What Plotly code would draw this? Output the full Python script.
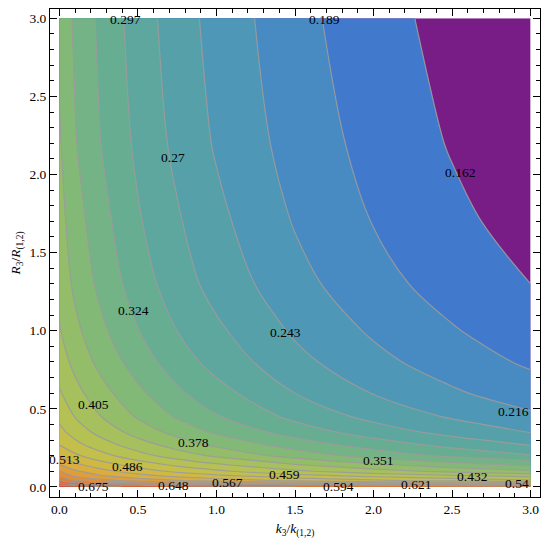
import plotly.graph_objects as go

# k3/k(1,2) grid (columns) and R3/R(1,2) grid (rows)
k_ratio = [0, 0.1, 0.25, 0.5, 0.75, 1.0, 1.5, 2.0, 2.5, 3.0]
r_ratio = [0, 0.01, 0.02, 0.04, 0.07, 0.1, 0.14, 0.2, 0.27, 0.35, 0.45,
           0.6, 0.8, 1.0, 1.3, 1.7, 2.2, 3.0]

# values, one row per r_ratio entry
z_vals = [
    [0.700, 0.692, 0.682, 0.670, 0.662, 0.656, 0.648, 0.642, 0.637, 0.632],
    [0.671, 0.662, 0.656, 0.649, 0.643, 0.638, 0.629, 0.622, 0.616, 0.610],
    [0.649, 0.633, 0.622, 0.609, 0.598, 0.590, 0.575, 0.563, 0.553, 0.543],
    [0.621, 0.595, 0.577, 0.557, 0.542, 0.529, 0.509, 0.492, 0.478, 0.465],
    [0.588, 0.563, 0.544, 0.523, 0.506, 0.493, 0.470, 0.452, 0.437, 0.424],
    [0.568, 0.544, 0.524, 0.499, 0.480, 0.464, 0.437, 0.416, 0.398, 0.382],
    [0.541, 0.520, 0.500, 0.475, 0.454, 0.437, 0.408, 0.384, 0.364, 0.347],
    [0.510, 0.491, 0.470, 0.442, 0.419, 0.400, 0.367, 0.340, 0.318, 0.299],
    [0.485, 0.467, 0.446, 0.417, 0.393, 0.372, 0.338, 0.311, 0.288, 0.268],
    [0.467, 0.448, 0.425, 0.394, 0.369, 0.347, 0.312, 0.284, 0.261, 0.242],
    [0.452, 0.431, 0.407, 0.375, 0.348, 0.326, 0.290, 0.262, 0.240, 0.221],
    [0.435, 0.414, 0.390, 0.357, 0.329, 0.307, 0.270, 0.242, 0.220, 0.201],
    [0.418, 0.397, 0.372, 0.338, 0.310, 0.287, 0.251, 0.224, 0.202, 0.185],
    [0.407, 0.385, 0.359, 0.325, 0.297, 0.275, 0.239, 0.212, 0.191, 0.174],
    [0.396, 0.372, 0.346, 0.310, 0.283, 0.260, 0.225, 0.198, 0.178, 0.162],
    [0.388, 0.363, 0.336, 0.300, 0.273, 0.250, 0.214, 0.188, 0.168, 0.152],
    [0.381, 0.353, 0.326, 0.291, 0.263, 0.240, 0.205, 0.180, 0.160, 0.144],
    [0.371, 0.346, 0.320, 0.284, 0.256, 0.233, 0.198, 0.172, 0.153, 0.137],
]

# contour levels
level_start = 0.162
level_end = 0.675
level_step = 0.027

# contour labels as printed on the map
label_text = ["0.297", "0.189", "0.27", "0.162", "0.324", "0.243", "0.216",
              "0.405", "0.378", "0.513", "0.486", "0.351", "0.459", "0.432",
              "0.675", "0.648", "0.567", "0.594", "0.621", "0.54"]
label_k = [0.42, 1.69, 0.72, 2.55, 0.47, 1.44, 3.0,
           0.215, 0.855, 0.03, 0.435, 2.03, 1.43, 2.63,
           0.215, 0.725, 1.07, 1.78, 2.27, 3.0]
label_r = [2.99, 2.99, 2.11, 2.01, 1.13, 0.99, 0.48,
           0.53, 0.287, 0.175, 0.132, 0.17, 0.079, 0.064,
           0.0, 0.01, 0.026, 0.0, 0.015, 0.02]

tick_vals = [0, 0.5, 1.0, 1.5, 2.0, 2.5, 3.0]
tick_text = ["0.0", "0.5", "1.0", "1.5", "2.0", "2.5", "3.0"]

# one colour per band, lowest band first
band_colors = [
    "#781C86", "#417ACC", "#488AC2", "#4F97B6", "#56A0AA", "#5EA79E",
    "#67AD92", "#73B385", "#83B977", "#94BD69", "#A5C05D", "#B5C153",
    "#C4BF4A", "#D0B942", "#DAAD3D", "#DF9E3A", "#E18E38", "#E07C36",
    "#DC6734", "#D65132", "#CD3A30",
]
n = len(band_colors) - 1
colorscale = [[i / n, c] for i, c in enumerate(band_colors)]

serif = "Liberation Serif"

fig = go.Figure()

fig.add_trace(go.Contour(
    x=k_ratio,
    y=r_ratio,
    z=z_vals,
    autocontour=False,
    contours=dict(start=level_start, end=level_end, size=level_step,
                  coloring="fill", showlines=True),
    colorscale=colorscale,
    showscale=False,
    line=dict(color="rgba(155,155,155,0.9)", width=1.2, smoothing=1),
    hoverinfo="skip",
))

for t, kx, ry in zip(label_text, label_k, label_r):
    anchor = "right" if kx >= 3.0 else "center"
    fig.add_annotation(x=kx, y=ry, text=t, showarrow=False, xanchor=anchor,
                       font=dict(family=serif, size=13.5, color="black"))

axis_common = dict(
    tickvals=tick_vals,
    ticktext=tick_text,
    ticks="inside",
    ticklen=7,
    tickwidth=1,
    tickcolor="black",
    minor=dict(ticks="inside", ticklen=4, dtick=0.1, tick0=0, tickcolor="black"),
    showline=True,
    linecolor="black",
    linewidth=1,
    mirror="ticks",
    showgrid=False,
    zeroline=False,
    automargin=False,
    tickfont=dict(family=serif, size=13.5, color="black"),
)

# the page adds an 8px body margin, so the figure is a bit smaller than the window
fig.update_layout(
    width=542,
    height=537,
    margin=dict(l=42, r=10, t=1, b=48),
    plot_bgcolor="white",
    paper_bgcolor="white",
    showlegend=False,
    xaxis=dict(
        range=[-0.06, 3.06],
        title=dict(text="<i>k</i><sub>3</sub>/<i>k</i><sub>(1,2)</sub>",
                   font=dict(family=serif, size=13.5, color="black"), standoff=7),
        **axis_common,
    ),
    yaxis=dict(
        range=[-0.065, 3.06],
        title=dict(text="<i>R</i><sub>3</sub>/<i>R</i><sub>(1,2)</sub>",
                   font=dict(family=serif, size=13.5, color="black"), standoff=8),
        **axis_common,
    ),
)

fig.write_html("out.html")
